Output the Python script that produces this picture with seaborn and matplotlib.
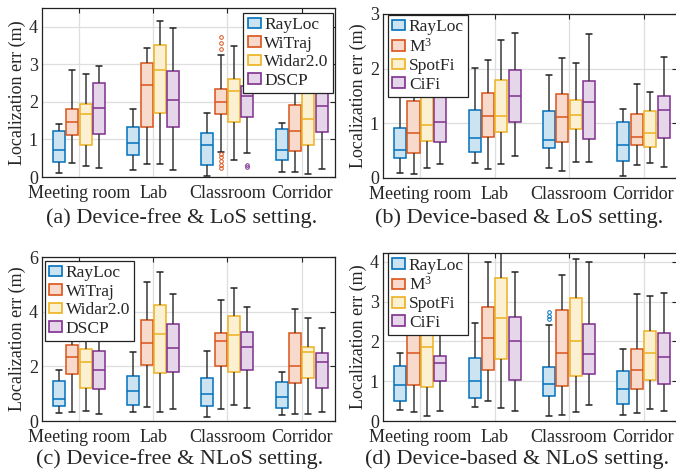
import numpy as np
import pandas as pd
import matplotlib
matplotlib.use("Agg")
import matplotlib.pyplot as plt
from matplotlib.patches import Patch
import seaborn as sns

groups = ["Meeting room", "Lab", "Classroom", "Corridor"]
free_methods = ["RayLoc", "WiTraj", "Widar2.0", "DSCP"]
based_methods = ["RayLoc", r"M$^3$", "SpotFi", "CiFi"]

edge_colors = ["#0072BD", "#D95319", "#EDB120", "#7E2F8E"]
fill_colors = ["#cce3f2", "#f8dacd", "#fcf0d2", "#e6d6ea"]

# box summaries per group: (whisker low, q1, median, q3, whisker high)
a_rayloc = [[0.11, 0.40, 0.71, 1.23, 1.41], [0.18, 0.59, 0.90, 1.34, 1.82], [0.03, 0.32, 0.85, 1.16, 1.71], [0.13, 0.44, 0.73, 1.27, 1.43]]
a_witraj = [[0.37, 1.12, 1.46, 1.81, 2.84], [0.35, 1.33, 2.46, 3.03, 3.44], [0.67, 1.67, 2.00, 2.35, 3.24], [0.12, 0.70, 1.22, 1.92, 2.85]]
a_widar = [[0.29, 0.86, 1.67, 1.95, 2.74], [0.34, 1.70, 2.84, 3.51, 4.15], [0.45, 1.46, 2.30, 2.62, 3.48], [0.09, 0.86, 1.54, 2.32, 3.20]]
a_dscp = [[0.23, 1.14, 1.83, 2.49, 2.95], [0.18, 1.33, 2.05, 2.83, 3.97], [0.65, 1.59, 2.17, 2.41, 3.32], [0.22, 1.21, 1.88, 2.60, 3.40]]
a_witraj_out = [[], [], [0.24, 0.33, 0.42, 0.52, 0.60, 3.42, 3.58, 3.72], []]
a_dscp_out = [[], [], [0.27, 0.33], []]

b_rayloc = [[0.10, 0.37, 0.51, 0.91, 1.60], [0.28, 0.47, 0.73, 1.25, 2.02], [0.19, 0.54, 0.69, 1.22, 1.88], [0.04, 0.32, 0.60, 1.02, 1.26]]
b_m3 = [[0.07, 0.45, 0.83, 1.41, 2.00], [0.17, 0.75, 1.14, 1.55, 2.16], [0.12, 0.66, 1.11, 1.53, 2.19], [0.24, 0.60, 0.75, 1.17, 1.72]]
b_spotfi = [[0.18, 0.68, 0.97, 1.60, 2.20], [0.26, 0.84, 1.13, 1.79, 2.53], [0.29, 0.89, 1.16, 1.42, 2.11], [0.27, 0.56, 0.82, 1.22, 1.57]]
b_cifi = [[0.26, 0.65, 1.02, 1.60, 2.30], [0.41, 1.03, 1.50, 1.97, 2.65], [0.29, 0.72, 1.39, 1.77, 2.64], [0.21, 0.74, 1.25, 1.50, 2.22]]

c_rayloc = [[0.28, 0.54, 0.80, 1.47, 1.85], [0.32, 0.59, 1.10, 1.66, 2.52], [0.13, 0.56, 0.98, 1.59, 2.57], [0.22, 0.49, 0.88, 1.42, 1.81]]
c_witraj = [[0.32, 1.73, 2.34, 2.78, 3.40], [0.53, 2.04, 2.85, 3.71, 5.07], [0.43, 2.00, 2.94, 3.21, 4.41], [0.26, 1.38, 2.00, 3.23, 4.08]]
c_widar = [[0.37, 1.20, 2.15, 2.62, 3.01], [0.34, 1.75, 3.18, 4.26, 5.46], [0.60, 1.81, 3.13, 3.84, 4.85], [0.27, 1.57, 2.51, 2.69, 3.77]]
c_dscp = [[0.24, 1.18, 1.88, 2.57, 3.06], [0.43, 1.81, 2.68, 3.56, 4.65], [0.49, 1.88, 2.72, 3.24, 4.17], [0.34, 1.20, 2.15, 2.48, 3.40]]

d_rayloc = [[0.28, 0.51, 0.91, 1.37, 1.71], [0.34, 0.59, 1.01, 1.58, 2.45], [0.13, 0.62, 0.93, 1.35, 2.42], [0.15, 0.42, 0.81, 1.26, 1.82]]
d_m3 = [[0.23, 0.90, 1.71, 2.40, 3.00], [0.51, 1.27, 2.08, 2.87, 4.00], [0.15, 0.87, 1.72, 2.80, 3.66], [0.19, 0.81, 1.29, 1.82, 3.19]]
d_spotfi = [[0.13, 0.86, 1.86, 2.50, 3.20], [0.32, 1.55, 2.59, 3.58, 4.35], [0.22, 1.12, 2.00, 3.08, 4.08], [0.30, 1.04, 1.70, 2.27, 3.15]]
d_cifi = [[0.24, 1.01, 1.46, 1.64, 2.40], [0.25, 1.04, 2.02, 2.61, 3.75], [0.39, 1.18, 1.68, 2.44, 3.99], [0.25, 0.94, 1.60, 2.21, 3.22]]
d_rayloc_out = [[], [], [2.55, 2.65, 2.75], []]

no_out = [[], [], [], []]

sns.set_theme(style="white")
plt.rcParams["font.family"] = ["Liberation Serif", "DejaVu Serif"]
plt.rcParams["mathtext.fontset"] = "custom"
plt.rcParams["mathtext.rm"] = "Liberation Serif"
plt.rcParams["mathtext.it"] = "Liberation Serif:italic"


def expand(s, outs):
    # turn a box summary (+ outliers) into samples that give back the same quartiles
    lo, q1, med, q3, hi = s
    below = sorted([o for o in outs if o < q1]) + [lo]
    above = [hi] + sorted([o for o in outs if o > q3])
    k = max(len(below), len(above))
    return (below + [q1] * (k - len(below) + 1) + [med] * k + [q3] * k
            + [q3] * (k - len(above)) + above)


def draw(ax, methods, stats, outliers, ylim, yticks, anchor, loc):
    pal = dict(zip(methods, fill_colors))
    for i, m in enumerate(methods):
        rows = []
        for g, s, o in zip(groups, stats[i], outliers[i]):
            for v in expand(s, o):
                rows.append((g, m, v, len(o) > 0))
        df = pd.DataFrame(rows, columns=["group", "method", "err", "has_out"])
        for has_out, sub in df.groupby("has_out"):
            sns.boxplot(data=sub, x="group", y="err", hue="method",
                        order=groups, hue_order=methods, palette=pal,
                        saturation=1, width=0.72, gap=0.1, dodge=True,
                        whis=1.5 if has_out else np.inf,
                        linecolor=edge_colors[i], linewidth=1.1,
                        whiskerprops=dict(color="#3a3a3a", linewidth=1.1),
                        capprops=dict(color="#222222", linewidth=1.1),
                        medianprops=dict(color=edge_colors[i], linewidth=1.1),
                        flierprops=dict(marker="o", markersize=2.6,
                                        markerfacecolor="none",
                                        markeredgecolor=edge_colors[i],
                                        markeredgewidth=0.7),
                        legend=False, ax=ax)
    ax.set_xlim(-0.5, 3.45)
    ax.set_ylim(*ylim)
    ax.set_yticks(yticks)
    ax.set_xticks(range(len(groups)))
    ax.set_xticklabels(groups, fontsize=13)
    ax.tick_params(axis="y", labelsize=13, pad=3)
    ax.tick_params(axis="x", pad=6)
    ax.tick_params(direction="in", top=True, right=True, length=3.5,
                   width=0.8, color="#222222")
    ax.set_xlabel("")
    ax.set_ylabel("Localization err (m)", fontsize=13, labelpad=2)
    ax.grid(True, color="#dedede", linewidth=0.9)
    ax.set_axisbelow(True)
    for sp in ax.spines.values():
        sp.set_color("#222222")
        sp.set_linewidth(0.9)
    handles = [Patch(facecolor=f, edgecolor=e, linewidth=1.2, label=m)
               for m, f, e in zip(methods, fill_colors, edge_colors)]
    leg = ax.legend(handles=handles, loc=loc, bbox_to_anchor=anchor,
                    borderaxespad=0, fontsize=12.5, fancybox=False,
                    edgecolor="#222222", framealpha=1, handlelength=0.75,
                    handleheight=0.55, handletextpad=0.2, labelspacing=0.14,
                    borderpad=0.25)
    leg.get_frame().set_linewidth(0.9)


fig = plt.figure(figsize=(6.76, 4.76), dpi=100)
W, H = 676, 476


def box_axes(l, t, r, b):
    return fig.add_axes([l / W, 1 - b / H, (r - l) / W, (b - t) / H])


ax_a = box_axes(42, 8, 335, 177)
ax_b = box_axes(383, 14, 677, 178)
ax_c = box_axes(42, 257, 335, 421)
ax_d = box_axes(383, 253, 677, 421)

draw(ax_a, free_methods, [a_rayloc, a_witraj, a_widar, a_dscp],
     [no_out, a_witraj_out, no_out, a_dscp_out], (0, 4.5), [0, 1, 2, 3, 4],
     (0.993, 0.97), "upper right")
draw(ax_b, based_methods, [b_rayloc, b_m3, b_spotfi, b_cifi],
     [no_out] * 4, (0, 3), [0, 1, 2, 3], (0.017, 0.994), "upper left")
draw(ax_c, free_methods, [c_rayloc, c_witraj, c_widar, c_dscp],
     [no_out] * 4, (0, 6), [0, 2, 4, 6], (0.01, 0.976), "upper left")
draw(ax_d, based_methods, [d_rayloc, d_m3, d_spotfi, d_cifi],
     [d_rayloc_out, no_out, no_out, no_out], (0, 4.22), [0, 1, 2, 3, 4],
     (0.017, 0.998), "upper left")

fig.text(182 / W, 1 - 218 / H, "(a) Device-free & LoS setting.", ha="center", va="center", fontsize=16)
fig.text(519 / W, 1 - 218 / H, "(b) Device-based & LoS setting.", ha="center", va="center", fontsize=16)
fig.text(180 / W, 1 - 459 / H, "(c) Device-free & NLoS setting.", ha="center", va="center", fontsize=16)
fig.text(517 / W, 1 - 459 / H, "(d) Device-based & NLoS setting.", ha="center", va="center", fontsize=16)

fig.savefig("out.png", dpi=100)
